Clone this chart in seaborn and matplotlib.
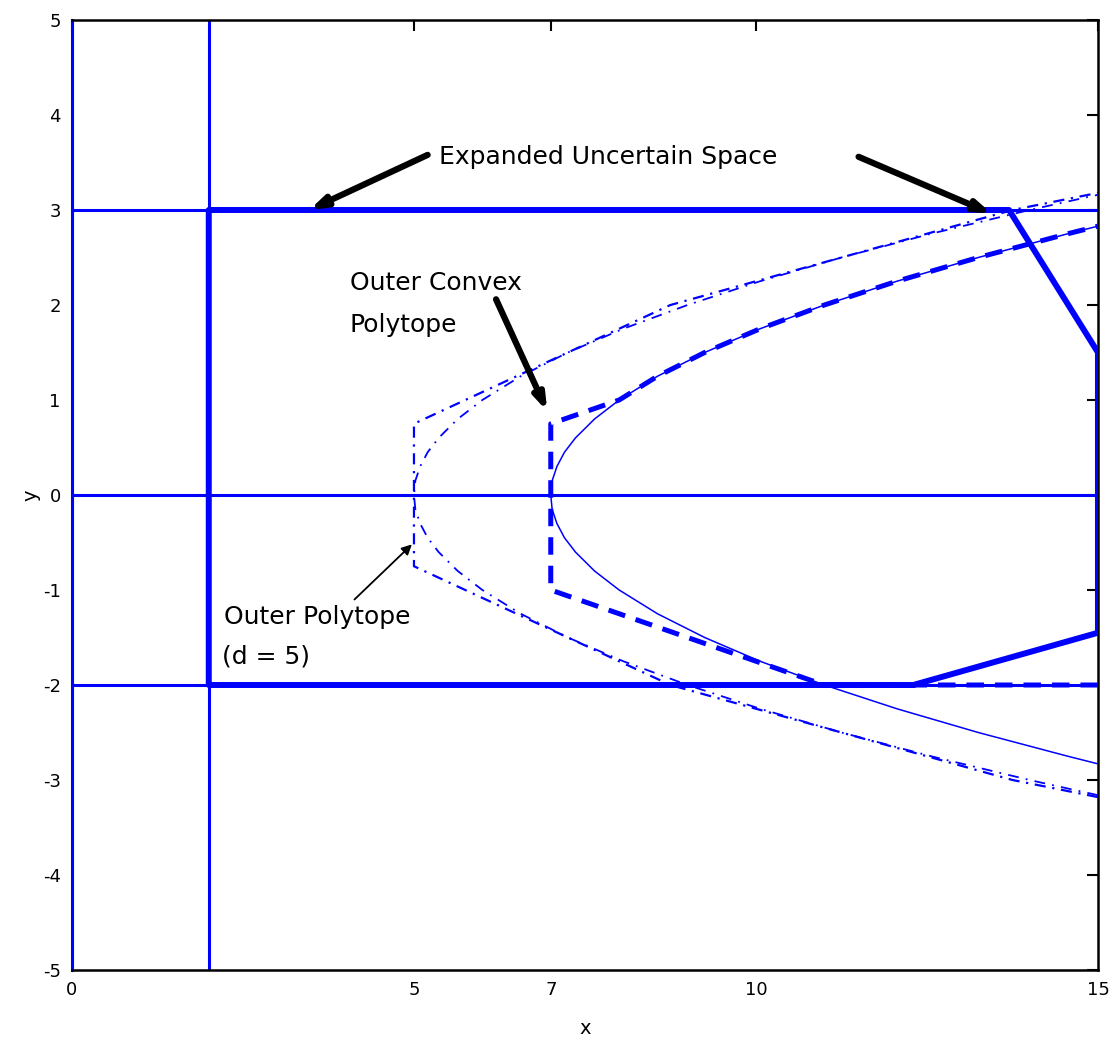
import matplotlib
matplotlib.use("Agg")
import matplotlib.pyplot as plt
import seaborn as sns

# ---- data -------------------------------------------------------------
# boundary curve of the uncertain set (vertex at x = 7)
inner_y = [-2.83, -2.75, -2.5, -2.25, -2.0, -1.75, -1.5, -1.25, -1.0, -0.8, -0.6,
           -0.45, -0.3, -0.15, 0.0, 0.15, 0.3, 0.45, 0.6, 0.8, 1.0, 1.25, 1.5,
           1.75, 2.0, 2.25, 2.5, 2.75, 2.83]
inner_x = [15.0, 14.56, 13.25, 12.06, 11.0, 10.06, 9.25, 8.56, 8.0, 7.64, 7.36,
           7.2, 7.09, 7.02, 7.0, 7.02, 7.09, 7.2, 7.36, 7.64, 8.0, 8.56, 9.25,
           10.06, 11.0, 12.06, 13.25, 14.56, 15.0]

# shifted boundary curve (vertex at x = 5)
shift_y = [-3.16, -3.0, -2.75, -2.5, -2.25, -2.0, -1.75, -1.5, -1.25, -1.0, -0.8,
           -0.6, -0.45, -0.3, -0.15, 0.0, 0.15, 0.3, 0.45, 0.6, 0.8, 1.0, 1.25,
           1.5, 1.75, 2.0, 2.25, 2.5, 2.75, 3.0, 3.16]
shift_x = [15.0, 14.0, 12.56, 11.25, 10.06, 9.0, 8.06, 7.25, 6.56, 6.0, 5.64,
           5.36, 5.2, 5.09, 5.02, 5.0, 5.02, 5.09, 5.2, 5.36, 5.64, 6.0, 6.56,
           7.25, 8.06, 9.0, 10.06, 11.25, 12.56, 14.0, 15.0]

# outer polytope (d = 5)
outer_x = [15.0, 13.75, 8.75, 5.0, 5.0, 8.75, 13.75, 15.0]
outer_y = [-3.18, -3.0, -2.0, -0.75, 0.75, 2.0, 3.0, 3.18]

# outer convex polytope
convex_x = [15.0, 11.0, 7.0, 7.0, 8.0, 8.56, 9.25, 10.06, 11.0, 12.06, 13.25, 14.56, 15.0]
convex_y = [-2.0, -2.0, -1.0, 0.75, 1.0, 1.25, 1.5, 1.75, 2.0, 2.25, 2.5, 2.75, 2.83]

# expanded uncertain space
space_x = [12.3, 2.0, 2.0, 13.7, 15.0, 15.0, 12.3]
space_y = [-2.0, -2.0, 3.0, 3.0, 1.5, -1.45, -2.0]

# reference lines
vlines_x = [0, 2]
hlines_y = [3, 0, -2]

x_ticks = [0, 5, 7, 10, 15]
y_ticks = [-5, -4, -3, -2, -1, 0, 1, 2, 3, 4, 5]

# ---- drawing ----------------------------------------------------------
sns.set_style("white")
plt.rcParams["font.family"] = ["DejaVu Sans"]
plt.rcParams["text.color"] = "black"
plt.rcParams["axes.labelcolor"] = "black"
plt.rcParams["axes.unicode_minus"] = False

BLUE = "#0000ff"
fig = plt.figure(figsize=(11.14, 10.41), dpi=100)
ax = fig.add_axes([0.0646, 0.0682, 0.921, 0.9126])

for xv in vlines_x:
    ax.axvline(xv, color=BLUE, lw=2.2, zorder=2)
for yv in hlines_y:
    ax.axhline(yv, color=BLUE, lw=2.2, zorder=2)

sns.lineplot(x=space_x, y=space_y, sort=False, estimator=None, ax=ax,
             color=BLUE, lw=4.3, zorder=3)
sns.lineplot(x=inner_x, y=inner_y, sort=False, estimator=None, ax=ax,
             color=BLUE, lw=1.1, zorder=3)
sns.lineplot(x=shift_x, y=shift_y, sort=False, estimator=None, ax=ax,
             color=BLUE, lw=1.3, linestyle=(0, (6, 4, 1, 4)), zorder=3)
sns.lineplot(x=outer_x, y=outer_y, sort=False, estimator=None, ax=ax,
             color=BLUE, lw=1.6, linestyle=(0, (5, 3, 1, 3)), zorder=3)
sns.lineplot(x=convex_x, y=convex_y, sort=False, estimator=None, ax=ax,
             color=BLUE, lw=3.6, linestyle=(0, (3.5, 2.2)), zorder=4)

ax.set_xlim(0, 15)
ax.set_ylim(-5, 5)
ax.set_xticks(x_ticks)
ax.set_yticks(y_ticks)
ax.set_xlabel("x", fontsize=14, labelpad=14)
ax.set_ylabel("y", fontsize=14, labelpad=2)
ax.tick_params(direction="in", length=8, width=1.5, top=True, right=True,
               labelsize=13, colors="black", pad=8)
for name, s in ax.spines.items():
    s.set_color("black")
    s.set_linewidth(1.8)
    s.set_visible(True)
ax.spines["left"].set_color(BLUE)
ax.spines["left"].set_linewidth(2.2)

# annotations
big_arrow = dict(arrowstyle="-|>,head_length=0.9,head_width=0.3", lw=4.5,
                 color="black", shrinkA=0, shrinkB=0)
ax.text(5.37, 3.56, "Expanded Uncertain Space", fontsize=18, va="center", ha="left")
ax.annotate("", xy=(3.47, 3.0), xytext=(5.2, 3.58), arrowprops=big_arrow)
ax.annotate("", xy=(13.45, 2.96), xytext=(11.5, 3.56), arrowprops=big_arrow)

ax.text(4.06, 2.23, "Outer Convex", fontsize=18, va="center", ha="left")
ax.text(4.06, 1.79, "Polytope", fontsize=18, va="center", ha="left")
ax.annotate("", xy=(6.95, 0.88), xytext=(6.2, 2.06), arrowprops=big_arrow)

ax.text(2.23, -1.28, "Outer Polytope", fontsize=18, va="center", ha="left")
ax.text(2.2, -1.7, "(d = 5)", fontsize=18, va="center", ha="left")
ax.annotate("", xy=(4.97, -0.52), xytext=(4.13, -1.1),
            arrowprops=dict(arrowstyle="-|>,head_length=0.6,head_width=0.3",
                            lw=1.3, color="black", shrinkA=0, shrinkB=0))

fig.savefig("out.png", dpi=100, facecolor="white")
